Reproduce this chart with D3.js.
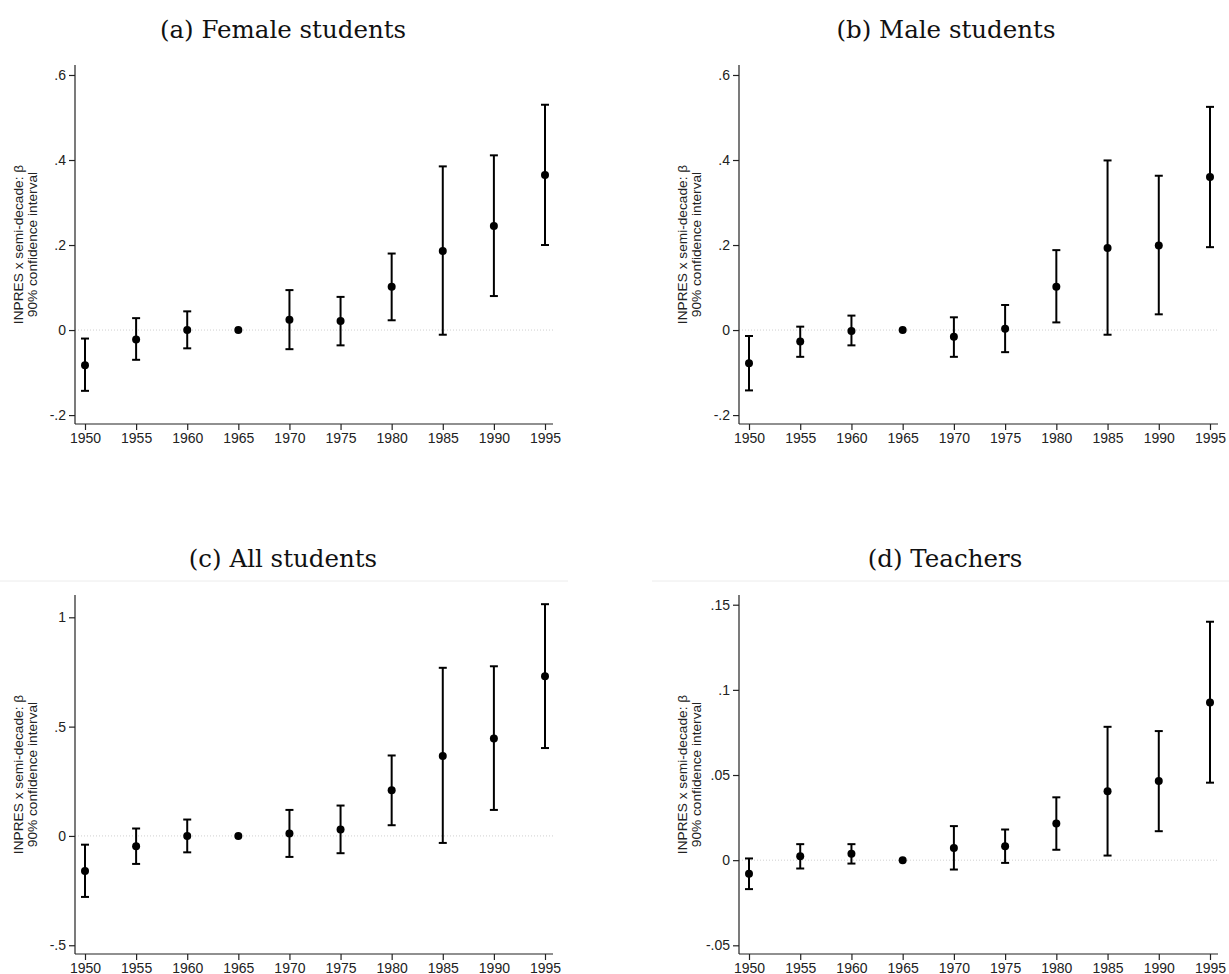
<!DOCTYPE html>
<html>
<head>
<meta charset="utf-8">
<script src="https://cdn.jsdelivr.net/npm/d3@7"></script>
<style>
  html, body { margin: 0; padding: 0; background: #fff; }
  svg { display: block; }
</style>
</head>
<body>
<svg id="chart" width="1229" height="974"></svg>
<script>
// Event-study coefficients by semi-decade of birth, 1965 is the omitted cohort
const years = [1950, 1955, 1960, 1965, 1970, 1975, 1980, 1985, 1990, 1995];

const femaleEst = [-0.083, -0.022, 0.000, 0, 0.024, 0.021, 0.102, 0.186, 0.245, 0.365];
const femaleLo  = [-0.143, -0.070, -0.043, null, -0.045, -0.036, 0.023, -0.011, 0.080, 0.200];
const femaleHi  = [-0.020, 0.028, 0.044, null, 0.094, 0.078, 0.180, 0.385, 0.411, 0.530];

const maleEst = [-0.078, -0.027, -0.002, 0, -0.016, 0.003, 0.102, 0.193, 0.199, 0.360];
const maleLo  = [-0.142, -0.063, -0.036, null, -0.063, -0.052, 0.018, -0.011, 0.037, 0.195];
const maleHi  = [-0.014, 0.008, 0.034, null, 0.030, 0.059, 0.188, 0.399, 0.363, 0.525];

const allEst = [-0.160, -0.047, 0.000, 0, 0.011, 0.029, 0.209, 0.366, 0.446, 0.730];
const allLo  = [-0.279, -0.128, -0.075, null, -0.096, -0.079, 0.049, -0.032, 0.119, 0.402];
const allHi  = [-0.040, 0.034, 0.075, null, 0.119, 0.139, 0.368, 0.769, 0.776, 1.060];

const teacherEst = [-0.008, 0.0023, 0.0037, 0, 0.0072, 0.0082, 0.0215, 0.0404, 0.0465, 0.0926];
const teacherLo  = [-0.017, -0.0049, -0.002, null, -0.0055, -0.0016, 0.0061, 0.0027, 0.017, 0.0455];
const teacherHi  = [0.001, 0.0094, 0.0094, null, 0.020, 0.018, 0.0369, 0.0783, 0.0758, 0.140];

const titles = ["(a) Female students", "(b) Male students", "(c) All students", "(d) Teachers"];

const femaleTicks  = [-0.2, 0, 0.2, 0.4, 0.6];
const femaleLabels = ["-.2", "0", ".2", ".4", ".6"];
const maleTicks    = [-0.2, 0, 0.2, 0.4, 0.6];
const maleLabels   = ["-.2", "0", ".2", ".4", ".6"];
const allTicks     = [-0.5, 0, 0.5, 1];
const allLabels    = ["-.5", "0", ".5", "1"];
const teacherTicks  = [-0.05, 0, 0.05, 0.1, 0.15];
const teacherLabels = ["-.05", "0", ".05", ".1", ".15"];

const yTitleLines = ["INPRES x semi-decade: \u03b2", "90% confidence interval"];

// Panel geometry (plot box and axis ranges)
const panels = [
  { est: femaleEst, lo: femaleLo, hi: femaleHi, ticks: femaleTicks, labels: femaleLabels,
    ylim: [-0.221, 0.6235], x0: 75, x1: 553, top: 65, bottom: 424, titleX: 283, titleY: 38, rule: null },
  { est: maleEst, lo: maleLo, hi: maleHi, ticks: maleTicks, labels: maleLabels,
    ylim: [-0.221, 0.6235], x0: 739, x1: 1218, top: 65, bottom: 424, titleX: 946, titleY: 38, rule: null },
  { est: allEst, lo: allLo, hi: allHi, ticks: allTicks, labels: allLabels,
    ylim: [-0.540, 1.102], x0: 75, x1: 553, top: 595, bottom: 954, titleX: 283, titleY: 567, rule: [0, 568] },
  { est: teacherEst, lo: teacherLo, hi: teacherHi, ticks: teacherTicks, labels: teacherLabels,
    ylim: [-0.0551, 0.1557], x0: 739, x1: 1218, top: 595, bottom: 954, titleX: 945, titleY: 567, rule: [652, 1229] }
];

const sansFont = "'Liberation Sans', Arial, sans-serif";
const svg = d3.select("#chart");

function styleAxis(sel) {
  sel.attr("font-family", null).attr("font-size", null);
  sel.selectAll(".tick text")
    .style("font-family", sansFont)
    .style("font-size", "14px")
    .style("fill", "#222");
  sel.selectAll(".tick line").style("stroke", "#222").style("stroke-width", "1.2px");
  sel.select(".domain").style("stroke", "#222").style("stroke-width", "1.2px");
}

panels.forEach((p, i) => {
  const g = svg.append("g");

  const x = d3.scaleLinear().domain([1950, 1995]).range([p.x0 + 10, p.x1 - 8]);
  const y = d3.scaleLinear().domain(p.ylim).range([p.bottom, p.top]);

  // title
  g.append("text")
    .attr("x", p.titleX).attr("y", p.titleY)
    .attr("text-anchor", "middle")
    .style("font-family", "'DejaVu Serif', 'Liberation Serif', serif")
    .style("font-size", "24.5px")
    .style("fill", "#111")
    .text(titles[i]);

  // faint rule under the title
  if (p.rule) {
    g.append("line")
      .attr("x1", p.rule[0]).attr("x2", p.rule[1])
      .attr("y1", p.titleY + 14).attr("y2", p.titleY + 14)
      .style("stroke", "#ececec").style("stroke-width", 1);
  }

  // zero reference line
  g.append("line")
    .attr("x1", p.x0).attr("x2", p.x1)
    .attr("y1", y(0)).attr("y2", y(0))
    .style("stroke", "#cfcfcf").style("stroke-width", 1)
    .style("stroke-dasharray", "1,2");

  // y axis
  const yAxis = d3.axisLeft(y)
    .tickValues(p.ticks)
    .tickFormat((d, k) => p.labels[k])
    .tickSizeInner(6).tickSizeOuter(0).tickPadding(3);
  const yg = g.append("g").attr("transform", `translate(${p.x0},0)`).call(yAxis);
  yg.select(".domain").attr("d", `M0,${p.bottom}V${p.top}`);
  styleAxis(yg);

  // x axis
  const xAxis = d3.axisBottom(x)
    .tickValues(years)
    .tickFormat(d3.format("d"))
    .tickSizeInner(6).tickSizeOuter(0).tickPadding(3);
  const xg = g.append("g").attr("transform", `translate(0,${p.bottom})`).call(xAxis);
  xg.select(".domain").attr("d", `M${p.x0},0H${p.x1}`);
  styleAxis(xg);

  // y axis title (two lines)
  const cy = (p.top + p.bottom) / 2;
  yTitleLines.forEach((line, k) => {
    g.append("text")
      .attr("transform", `translate(${p.x0 - 52.5 + k * 14.6},${cy}) rotate(-90)`)
      .attr("text-anchor", "middle")
      .style("font-family", sansFont)
      .style("font-size", "13.7px")
      .style("fill", "#222")
      .text(line);
  });

  // confidence intervals
  const ci = years.map((yr, k) => ({ yr, lo: p.lo[k], hi: p.hi[k] })).filter(d => d.lo !== null);
  const bars = g.append("g").style("stroke", "#000").style("stroke-width", 2);
  bars.selectAll("line.v").data(ci).join("line").attr("class", "v")
    .attr("x1", d => x(d.yr)).attr("x2", d => x(d.yr))
    .attr("y1", d => y(d.lo)).attr("y2", d => y(d.hi));
  bars.selectAll("line.cl").data(ci).join("line").attr("class", "cl")
    .attr("x1", d => x(d.yr) - 4).attr("x2", d => x(d.yr) + 4)
    .attr("y1", d => y(d.lo)).attr("y2", d => y(d.lo));
  bars.selectAll("line.ch").data(ci).join("line").attr("class", "ch")
    .attr("x1", d => x(d.yr) - 4).attr("x2", d => x(d.yr) + 4)
    .attr("y1", d => y(d.hi)).attr("y2", d => y(d.hi));

  // point estimates
  g.append("g").selectAll("circle")
    .data(years.map((yr, k) => ({ yr, v: p.est[k] })))
    .join("circle")
    .attr("cx", d => x(d.yr)).attr("cy", d => y(d.v))
    .attr("r", 4).style("fill", "#000");
});
</script>
</body>
</html>
